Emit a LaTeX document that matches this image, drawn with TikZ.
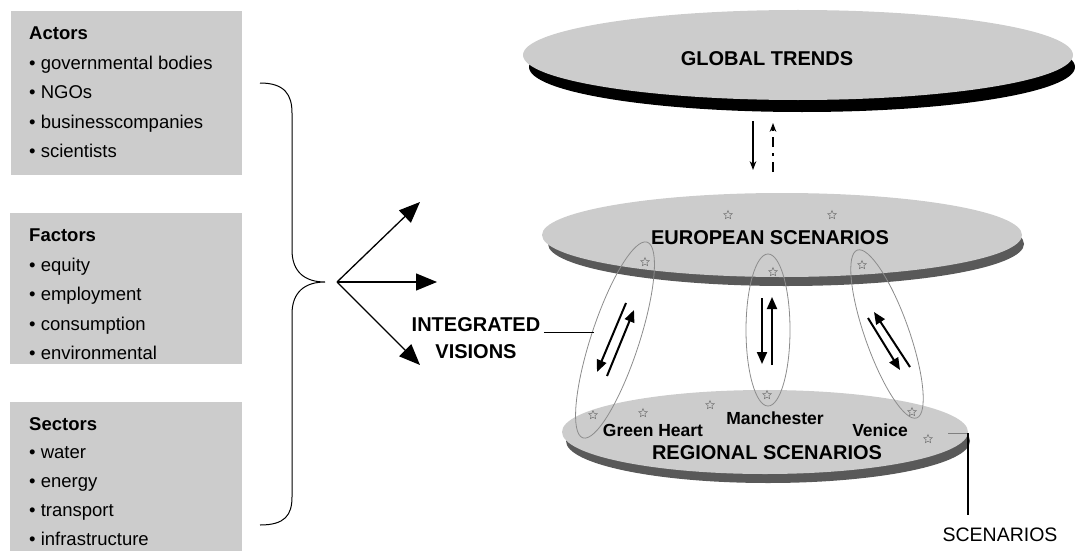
\documentclass[tikz,border=0pt]{standalone}
\usepackage{fontspec}
\setmainfont{Liberation Sans}
\usetikzlibrary{arrows.meta}
\usetikzlibrary{shapes.geometric}
\usetikzlibrary{positioning}

\tikzset{
  listbox/.style={fill=black!20, inner sep=0pt, anchor=north west},
  listtext/.style={anchor=north west, align=left, inner sep=0pt, font=\fontsize{18.5}{29.5}\selectfont},
  disc/.style={fill=black!20},
  rim/.style={fill=black!65},
  starmark/.style={star, star points=5, star point ratio=2.2, draw=black!55, line width=0.5pt, minimum size=9pt, inner sep=0pt},
  link/.style={draw=black!45, line width=0.8pt},
  pair/.style={line width=2pt, -{Triangle[length=12pt,width=10pt]}},
  fanout/.style={line width=1.3pt, -{Triangle[length=21pt,width=17pt]}},
  level/.style={font=\fontsize{20}{24}\selectfont\bfseries},
  place/.style={font=\fontsize{17.5}{20}\selectfont\bfseries},
}

\begin{document}
\begin{tikzpicture}[>=Stealth, x=1pt, y=-1pt]

    \useasboundingbox (0,0) rectangle (1075,551);

    % lists on the left
    \node[listbox, minimum width=231pt, minimum height=164pt] (actorsbox) at (11,11) {};
    \node[listbox, minimum width=232pt, minimum height=151pt] (factorsbox) at (10,213) {};
    \node[listbox, minimum width=232pt, minimum height=149pt] (sectorsbox) at (10,402) {};

    \node[listtext] (actors) at (29,27) {\textbf{Actors}\\ \textbullet\ governmental bodies\\ \textbullet\ NGOs\\ \textbullet\ businesscompanies\\ \textbullet\ scientists};
    \node[listtext] (factors) at (29,229) {\textbf{Factors}\\ \textbullet\ equity\\ \textbullet\ employment\\ \textbullet\ consumption\\ \textbullet\ environmental};
    \node[listtext, font=\fontsize{18.5}{28.8}\selectfont] (sectors) at (29,417) {\textbf{Sectors}\\ \textbullet\ water\\ \textbullet\ energy\\ \textbullet\ transport\\ \textbullet\ infrastructure};

    \draw[line width=1pt] (260,83) .. controls (285,83) and (292,95) .. (292,113) -- (292,250)
        .. controls (292,272) and (305,282) .. (325,282)
        .. controls (305,282) and (292,292) .. (292,314) -- (292,497)
        .. controls (292,515) and (285,525) .. (260,525);

    \coordinate (fan) at (337,282);
    \coordinate (fanup) at (420,202);
    \coordinate (fanmid) at (437,282);
    \coordinate (fandown) at (420,365);
    \draw[fanout] (fan) -- (fanup);
    \draw[fanout] (fan) -- (fanmid);
    \draw[fanout] (fan) -- (fandown);

    % the three levels
    \fill (802,67) ellipse [x radius=273, y radius=45];
    \fill[disc] (798,55) ellipse [x radius=275, y radius=45];
    \node[level] (global) at (767,59) {GLOBAL TRENDS};

    \fill[rim] (786,244) ellipse [x radius=238, y radius=42];
    \fill[disc] (782,235) ellipse [x radius=240, y radius=42];
    \node[level] (europe) at (770,238) {EUROPEAN SCENARIOS};

    \fill[rim] (768,441) ellipse [x radius=202, y radius=42];
    \fill[disc] (765,432) ellipse [x radius=203, y radius=42];
    \node[level] (region) at (767,453) {REGIONAL SCENARIOS};
    \node[place] (greenheart) at (653,430) {Green Heart};
    \node[place] (manchester) at (775,418) {Manchester};
    \node[place] (venice) at (880,430) {Venice};

    \foreach \n/\p in {e1/{728,215}, e2/{832,215}, e3/{645,262}, e4/{773,272}, e5/{862,265},
                       r1/{593,415}, r2/{643,413}, r3/{710,405}, r4/{767,395}, r5/{912,412}, r6/{928,439}}
        \node[starmark] (star\n) at (\p) {};

    \coordinate (gdown) at (753,121);
    \coordinate (gup) at (773,172);
    \draw[->, line width=1.3pt] (gdown) -- ++(0,49);
    \draw[->, line width=1.3pt, dash pattern=on 10pt off 6pt on 3pt off 6pt] (gup) -- ++(0,-49);

    % integrated visions
    \draw[link, rotate around={71.8:(615,340)}] (615,340) ellipse [x radius=103, y radius=24];
    \draw[link] (768,330) ellipse [x radius=22, y radius=76];
    \draw[link, rotate around={109.5:(887,334)}] (887,334) ellipse [x radius=89, y radius=22];

    \draw[pair] (626,303) -- (597,372);
    \draw[pair] (607,376) -- (634,310);
    \draw[pair] (762,298) -- (762,364);
    \draw[pair] (772,365) -- (772,297);
    \draw[pair] (910,367) -- (874,312);
    \draw[pair] (868,318) -- (900,370);

    \node[level, align=center, font=\fontsize{20}{27}\selectfont\bfseries] (visions) at (476,338) {INTEGRATED\\VISIONS};
    \coordinate (visend) at (594,332);
    \draw[line width=0.8pt] (visions.east |- visend) -- (visend);

    % scenarios marker
    \node[font=\fontsize{19.5}{22}\selectfont] (scenarios) at (1000,535) {SCENARIOS};
    \coordinate (scentop) at (968,433);
    \coordinate (scenfoot) at (968,515);
    \draw[black!50, line width=0.6pt] (948,433) -- (scentop);
    \draw[line width=1.2pt] (scentop) -- (scenfoot);

\end{tikzpicture}
\end{document}
